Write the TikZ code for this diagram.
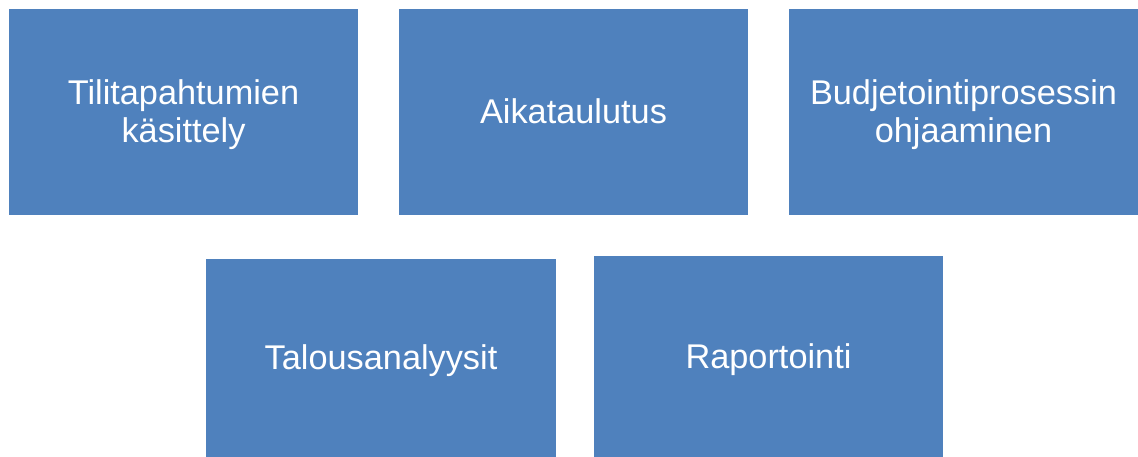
\documentclass[tikz,border=0pt]{standalone}
\usepackage{fontspec}
\setmainfont{Liberation Sans}
\definecolor{boxblue}{HTML}{4F81BD}
\begin{document}
\begin{tikzpicture}[x=1pt,y=-1pt,
  box/.style={fill=boxblue, draw=none, anchor=north west},
  lbl/.style={text=white, align=center, inner sep=0pt,
    font=\fontsize{34.3}{38}\selectfont}]
\useasboundingbox (0,0) rectangle (1138,457);
\fill[white] (0,0) rectangle (1138,457);
\node[box, minimum width=349pt, minimum height=206pt] (b1) at (9,9) {};
\node[box, minimum width=349pt, minimum height=206pt] (b2) at (399,9) {};
\node[box, minimum width=349pt, minimum height=206pt] (b3) at (789,9) {};
\node[box, minimum width=350pt, minimum height=201pt] (b4) at (206,259) {};
\node[box, minimum width=349pt, minimum height=204pt] (b5) at (594,256) {};
\node[lbl] (t1) at (183.5,114.5) {Tilitapahtumien\\käsittely};
\node[lbl] (t2) at (573.5,111.5) {Aikataulutus};
\node[lbl] (t3) at (963.5,114.5) {Budjetointiprosessin\\ohjaaminen};
\node[lbl] (t4) at (381,361) {Talousanalyysit};
\node[lbl] (t5) at (768.5,360) {Raportointi};
\end{tikzpicture}
\end{document}
